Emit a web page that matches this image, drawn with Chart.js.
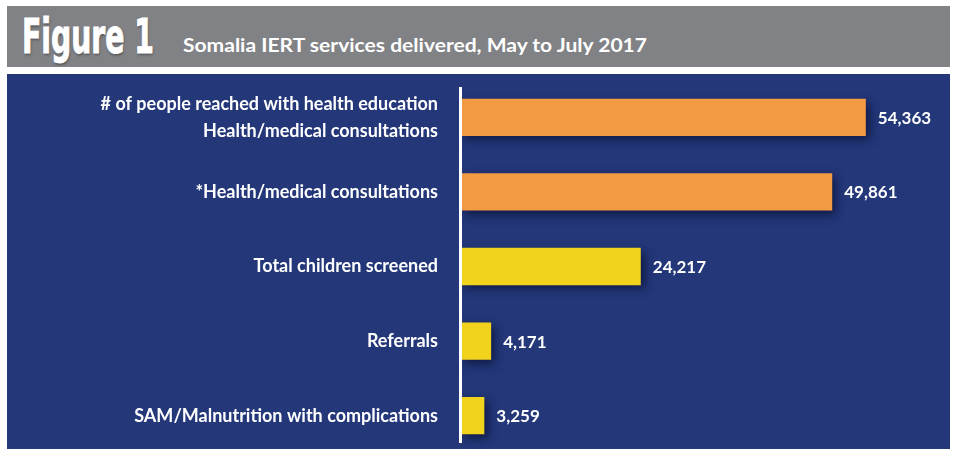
<!DOCTYPE html>
<html>
<head>
<meta charset="utf-8">
<script src="https://cdn.jsdelivr.net/npm/chart.js@4/dist/chart.umd.min.js"></script>
<style>
  html, body { margin: 0; padding: 0; background: #ffffff; }
  body { width: 953px; height: 450px; overflow: hidden; position: relative; }
  #header { position: absolute; left: 7px; top: 6px; width: 943px; height: 61px; background: #818285; }
  #fig { position: absolute; left: 22px; top: 9px; color: #ffffff; font-family: "DejaVu Sans Condensed", "DejaVu Sans", sans-serif; font-stretch: condensed; font-weight: bold; font-size: 48px; line-height: 54px; transform-origin: 0 0; -webkit-text-stroke: 1px #ffffff; text-shadow: 1px 2px 3px rgba(0,0,0,0.35); white-space: nowrap; }
  #sub { position: absolute; left: 183px; top: 33px; color: #ffffff; font-family: Lato, "Open Sans", sans-serif; font-weight: bold; font-size: 19.5px; line-height: 24px; white-space: nowrap; transform-origin: 0 0; }
  #panel { position: absolute; left: 7px; top: 74px; width: 943px; height: 375px; background: #233779; }
  #wrap { position: absolute; left: 7px; top: 74px; width: 943px; height: 380px; }
</style>
</head>
<body>
<div id="header"></div>
<div id="fig">Figure 1</div>
<div id="sub">Somalia IERT services delivered, May to July 2017</div>
<div id="panel"></div>
<div id="wrap"><canvas id="c" width="943" height="380"></canvas></div>
<script>
const categories = [
  ['# of people reached with health education', 'Health/medical consultations'],
  '*Health/medical consultations',
  'Total children screened',
  'Referrals',
  'SAM/Malnutrition with complications'
];
const values = [54363, 49861, 24217, 4171, 3259];
const barColors = ['#F39A45', '#F39A45', '#F1D31E', '#F1D31E', '#F1D31E'];

function fitWidth(id, target) {
  const el = document.getElementById(id);
  const w = el.getBoundingClientRect().width;
  if (w > 0) el.style.transform = 'scaleX(' + (target / w) + ')';
}
fitWidth('fig', 132);
fitWidth('sub', 464);

const shadowPlugin = {
  id: 'barShadow',
  beforeDatasetsDraw(chart) {
    const ctx = chart.ctx;
    ctx.save();
    ctx.shadowColor = 'rgba(8, 14, 50, 0.7)';
    ctx.shadowBlur = 9;
    ctx.shadowOffsetX = 4;
    ctx.shadowOffsetY = 4;
  },
  afterDatasetsDraw(chart) {
    chart.ctx.restore();
  }
};

const axisLinePlugin = {
  id: 'axisLine',
  afterDatasetsDraw(chart) {
    const ctx = chart.ctx;
    const a = chart.chartArea;
    ctx.save();
    ctx.strokeStyle = '#ffffff';
    ctx.lineWidth = 3;
    ctx.beginPath();
    ctx.moveTo(a.left + 0.5, a.top + 7);
    ctx.lineTo(a.left + 0.5, a.bottom - 10);
    ctx.stroke();
    ctx.restore();
  }
};

const valueLabelPlugin = {
  id: 'valueLabels',
  afterDatasetsDraw(chart) {
    const ctx = chart.ctx;
    const meta = chart.getDatasetMeta(0);
    ctx.save();
    ctx.fillStyle = '#ffffff';
    ctx.font = 'bold 17px Lato, "Open Sans", sans-serif';
    ctx.textAlign = 'left';
    ctx.textBaseline = 'middle';
    meta.data.forEach((bar, i) => {
      ctx.fillText(values[i].toLocaleString('en-US'), bar.x + 12, bar.y + 1);
    });
    ctx.restore();
  }
};

new Chart(document.getElementById('c'), {
  type: 'bar',
  data: {
    labels: categories,
    datasets: [{
      data: values,
      backgroundColor: barColors,
      borderWidth: 0,
      categoryPercentage: 1,
      barPercentage: 0.5
    }]
  },
  options: {
    indexAxis: 'y',
    responsive: false,
    animation: false,
    events: [],
    layout: { padding: { top: 6, bottom: 1, right: 10, left: 0 } },
    plugins: { legend: { display: false }, tooltip: { enabled: false } },
    scales: {
      x: { display: false, min: 0, max: 64300 },
      y: {
        grid: { display: false, drawTicks: false },
        border: { display: false },
        ticks: {
          color: '#ffffff',
          padding: 22,
          font: { family: 'Lato, "Open Sans", sans-serif', weight: 'bold', size: 18, lineHeight: 1.5 }
        },
        afterFit(scale) {
          scale.width = 453;
          scale.paddingTop = 0;
          scale.paddingBottom = 0;
        }
      }
    }
  },
  plugins: [shadowPlugin, axisLinePlugin, valueLabelPlugin]
});
</script>
</body>
</html>
